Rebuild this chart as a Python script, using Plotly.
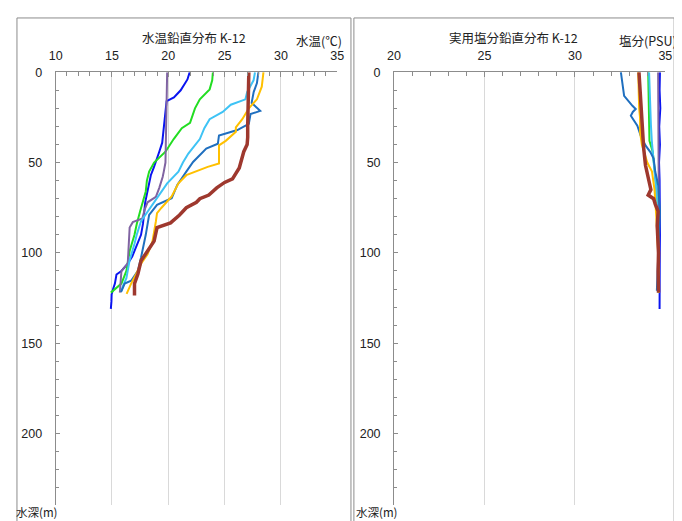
import plotly.graph_objects as go

# ---------------- data (depth in m, temperature in °C) ----------------
series_names = ["blue", "green", "purple", "cyan", "steel", "orange", "darkred"]
series_colors = ["#0A14F0", "#22DD22", "#8064A2", "#3EC3F5", "#1F6FBF", "#FFC000", "#9E382E"]
series_widths = [2, 2, 2, 2, 2, 2, 3.5]

temp_depth = {
    "blue": [0, 4, 10, 14, 16, 22, 28, 34, 39, 44, 48, 53, 57, 62, 66, 72, 77, 84, 90, 97, 102, 106, 110, 112, 117, 120, 123, 127, 131],
    "green": [0, 4.5, 9.5, 15, 20, 28, 31, 37, 44, 50, 55, 60, 66, 72, 77, 84, 90, 99, 105, 110, 117, 120, 122],
    "purple": [0, 10, 20, 30, 40, 50, 55, 58, 64, 69, 72, 76, 81, 83, 86, 95, 106, 110, 116, 122],
    "cyan": [0, 4.5, 11, 15, 18, 22, 26, 31, 37, 45, 50, 55, 61.5, 66, 70, 77, 82.5, 90, 95, 104, 110, 114, 118, 121],
    "steel": [0, 6, 11, 17, 21.4, 23.2, 28.6, 32, 35, 39.6, 42.3, 49.7, 55, 62.4, 69.7, 73.4, 79, 90, 102.6, 110, 115.4, 117, 121.7],
    "orange": [0, 8, 15, 20, 26, 30.5, 33, 38, 40.5, 50.5, 52.4, 57, 61.5, 68.8, 75, 78, 82.5, 93.5, 100.8, 106, 111.7, 117, 122.7],
    "darkred": [0, 10, 20, 30, 36, 40, 44, 53, 59, 61, 64, 68, 70, 72, 75, 79, 83.4, 86, 93.5, 100.8, 104.4, 111.7, 117, 123.6],
}
temp_values = {
    "blue": [21.9, 21.7, 21.1, 20.5, 19.85, 19.75, 19.67, 19.6, 19.46, 19.2, 19.0, 18.7, 18.45, 18.3, 18.16, 17.95, 17.87, 17.75, 17.58, 17.15, 16.8, 16.4, 15.84, 15.4, 15.26, 15.1, 14.97, 14.95, 14.9],
    "green": [23.96, 23.9, 23.67, 22.8, 22.37, 21.93, 21.2, 20.48, 19.75, 18.74, 18.3, 18.1, 18.0, 17.7, 17.5, 17.2, 17.0, 16.57, 16.4, 16.28, 15.84, 15.26, 14.9],
    "purple": [19.9, 19.88, 19.85, 19.82, 19.8, 19.75, 19.6, 19.5, 19.2, 18.9, 18.16, 17.9, 17.7, 16.85, 16.57, 16.5, 16.4, 15.84, 15.75, 15.7],
    "cyan": [27.7, 27.57, 27.0, 26.85, 25.55, 24.83, 23.67, 23.2, 22.8, 21.78, 21.3, 20.9, 19.9, 19.4, 18.9, 18.16, 17.58, 17.2, 17.0, 16.57, 16.4, 16.28, 16.0, 15.84],
    "steel": [28.0, 27.87, 27.58, 27.4, 28.16, 27.3, 27.15, 26.13, 24.5, 24.4, 23.37, 22.2, 21.6, 20.8, 20.3, 19.0, 18.3, 18.0, 17.58, 17.3, 16.7, 16.13, 15.8],
    "orange": [28.45, 28.3, 27.87, 27.15, 26.57, 26.0, 26.0, 25.1, 24.5, 24.5, 23.5, 21.6, 20.9, 20.3, 19.4, 19.0, 18.9, 18.6, 18.16, 17.58, 17.15, 16.7, 16.3],
    "darkred": [27.15, 27.1, 27.1, 27.05, 27.05, 27.0, 26.7, 26.3, 25.7, 25.0, 24.3, 23.6, 22.8, 22.5, 21.6, 21.0, 20.2, 19.0, 18.74, 18.0, 17.58, 17.3, 17.0, 17.0],
}

# ---------------- data (depth in m, salinity in PSU) ----------------
sal_depth = {
    "blue": [0, 10, 20, 30, 40, 50, 60, 70, 80, 90, 100, 110, 120, 131],
    "green": [0, 10, 20, 30, 38, 44, 50, 57, 65, 75, 90, 105, 122],
    "purple": [0, 20, 40, 60, 80, 100, 122],
    "cyan": [0, 10, 20, 29, 38, 45, 55, 65, 75, 90, 105, 121],
    "steel": [0, 4, 7.7, 13.1, 18.6, 20.4, 22, 24.1, 29.6, 35, 40.5, 44.2, 47.8, 55, 62.4, 77, 90, 105, 121],
    "orange": [0, 10, 20, 25, 33, 40, 50, 55, 65, 80, 100, 122],
    "darkred": [0, 15, 33, 42, 51.5, 60.6, 65, 68, 70, 73, 77, 85, 100, 110, 122],
}
sal_values = {
    "blue": [34.7, 34.68, 34.72, 34.66, 34.7, 34.65, 34.68, 34.7, 34.68, 34.7, 34.69, 34.7, 34.68, 34.68],
    "green": [34.05, 34.06, 34.08, 34.1, 34.12, 34.3, 34.38, 34.44, 34.5, 34.55, 34.6, 34.6, 34.6],
    "purple": [34.6, 34.6, 34.62, 34.63, 34.64, 34.65, 34.65],
    "cyan": [34.1, 34.12, 34.15, 34.2, 34.25, 34.3, 34.4, 34.5, 34.55, 34.6, 34.62, 34.65],
    "steel": [32.54, 32.6, 32.63, 32.72, 33.18, 33.36, 33.2, 33.09, 33.45, 33.63, 33.9, 34.17, 34.35, 34.44, 34.6, 34.7, 34.65, 34.6, 34.53],
    "orange": [33.5, 33.52, 33.55, 33.6, 33.6, 33.7, 34.0, 34.26, 34.4, 34.5, 34.6, 34.65],
    "darkred": [33.54, 33.63, 33.72, 33.8, 33.9, 34.08, 34.2, 34.05, 34.35, 34.44, 34.6, 34.55, 34.62, 34.6, 34.62],
}

temp_ticks = [10, 15, 20, 25, 30, 35]
sal_ticks = [20, 25, 30, 35]
depth_ticks = [0, 50, 100, 150, 200]

W, H = 682, 521
OFF = 8  # page margin around the figure
FONT = "Noto Sans CJK JP, Noto Sans, sans-serif"
NUMFONT = "Liberation Sans, Arial, sans-serif"
TXT = "#222222"

def px(x):
    return (x - OFF) / W

def py(y):
    return 1 - (y - OFF) / H

fig = go.Figure()
for name, col, w in zip(series_names, series_colors, series_widths):
    fig.add_trace(go.Scatter(x=temp_values[name], y=temp_depth[name], mode="lines",
                             line=dict(color=col, width=w), xaxis="x", yaxis="y",
                             showlegend=False, hoverinfo="skip"))
for name, col, w in zip(series_names, series_colors, series_widths):
    fig.add_trace(go.Scatter(x=sal_values[name], y=sal_depth[name], mode="lines",
                             line=dict(color=col, width=w), xaxis="x2", yaxis="y2",
                             showlegend=False, hoverinfo="skip"))

y_top, y_bot = 66, 504.2
xcommon = dict(side="top", showgrid=True, gridcolor="#D9D9D9", gridwidth=1,
               showline=True, linecolor="#8C8C8C", linewidth=1,
               ticks="inside", ticklen=5, tickcolor="#8C8C8C",
               minor=dict(dtick=1, ticks="inside", ticklen=4, tickcolor="#8C8C8C", showgrid=False),
               tickfont=dict(family=NUMFONT, size=12.5, color=TXT), ticklabelstandoff=6,
               zeroline=False, fixedrange=True)
ycommon = dict(autorange=False, range=[239.3, 0], tickvals=depth_ticks,
               showgrid=False, showline=True, linecolor="#8C8C8C", linewidth=1,
               ticks="inside", ticklen=4, tickcolor="#8C8C8C",
               minor=dict(dtick=10, ticks="inside", ticklen=3, tickcolor="#8C8C8C"),
               tickfont=dict(family=NUMFONT, size=12.5, color=TXT), ticklabelstandoff=10,
               zeroline=False, fixedrange=True)

fig.update_layout(
    width=W, height=H, margin=dict(l=0, r=0, t=0, b=0),
    paper_bgcolor="white", plot_bgcolor="white",
    xaxis=dict(xcommon, domain=[px(49.5), px(337)], range=[10, 35], tickvals=temp_ticks, anchor="y"),
    yaxis=dict(ycommon, domain=[py(y_bot), py(y_top)], anchor="x"),
    xaxis2=dict(xcommon, domain=[px(395), px(672)], range=[20, 35], tickvals=sal_ticks, anchor="y2"),
    yaxis2=dict(ycommon, domain=[py(y_bot), py(y_top)], anchor="x2"),
)

shapes = [
    dict(type="rect", xref="paper", yref="paper", x0=px(10), x1=px(351), y0=0, y1=py(11),
         line=dict(color="#8C8C8C", width=1)),
    dict(type="rect", xref="paper", yref="paper", x0=px(354), x1=px(681), y0=0, y1=py(11),
         line=dict(color="#8C8C8C", width=1)),
]
fig.update_layout(shapes=shapes)

def ann(text, x, y, size=12.5):
    return dict(text=text, x=px(x), y=py(y), xref="paper", yref="paper", showarrow=False,
                xanchor="center", yanchor="middle", font=dict(family=FONT, size=size, color=TXT))

fig.update_layout(annotations=[
    ann("水温鉛直分布 K-12", 191, 31),
    ann("水温(℃)", 318, 33.5),
    ann("水深(m)", 30, 512, 11.5),
    ann("実用塩分鉛直分布 K-12", 517, 31),
    ann("塩分(PSU)", 654, 33.5),
    ann("水深(m)", 377, 512, 11.5),
])

fig.write_html("out.html")
